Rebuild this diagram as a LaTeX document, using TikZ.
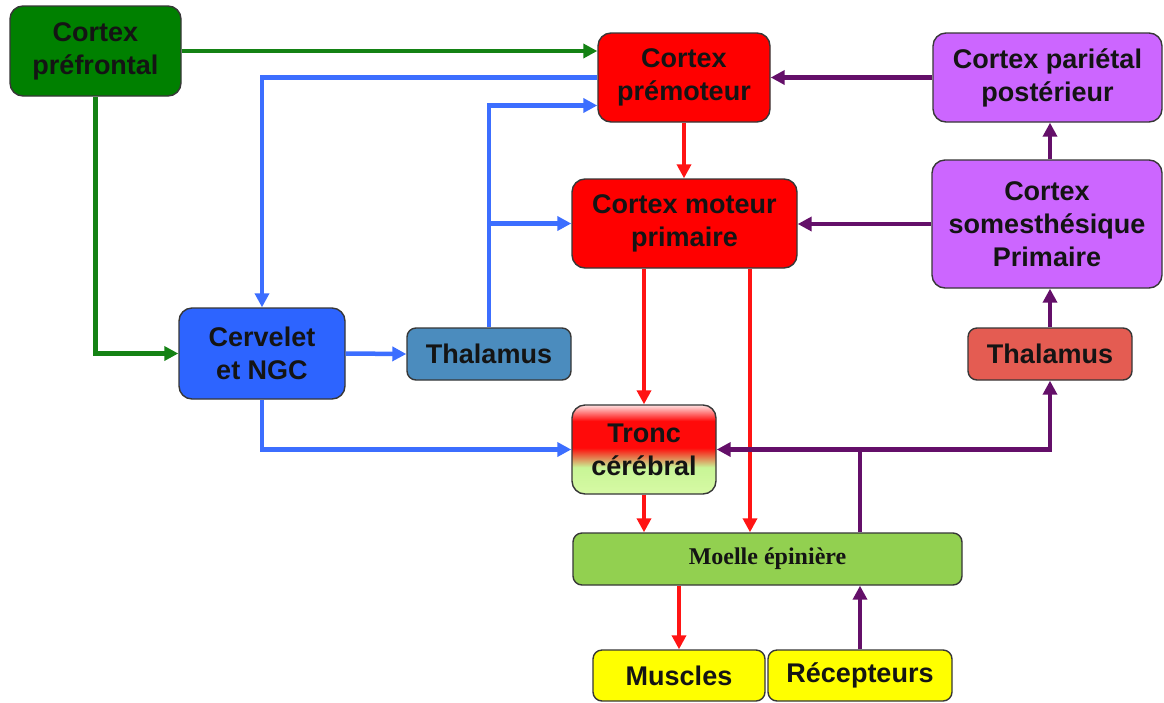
\documentclass[tikz,border=0pt]{standalone}
\usepackage{fontspec}
\setmainfont{Liberation Sans}
\newfontfamily\serifb{Liberation Serif}
\usetikzlibrary{arrows.meta,calc}
\definecolor{bord}{RGB}{55,55,55}
\definecolor{txt}{RGB}{20,20,20}
\definecolor{fpref}{RGB}{0,128,0}
\definecolor{fred}{RGB}{255,0,0}
\definecolor{fviol}{RGB}{204,102,255}
\definecolor{fblue}{RGB}{45,100,255}
\definecolor{fsteel}{RGB}{75,140,190}
\definecolor{fthr}{RGB}{228,92,82}
\definecolor{fmoelle}{RGB}{146,208,80}
\definecolor{fyel}{RGB}{255,255,0}
\definecolor{lgreen}{RGB}{20,130,20}
\definecolor{lblue}{RGB}{60,110,255}
\definecolor{lred}{RGB}{255,20,20}
\definecolor{lpurp}{RGB}{100,15,105}
\definecolor{tgreen}{RGB}{215,250,165}
\definecolor{tgreen2}{RGB}{200,245,150}
\definecolor{tred}{RGB}{255,10,10}
\definecolor{tpink}{RGB}{255,225,225}
\pgfdeclareverticalshading{troncshade}{100bp}{color(0bp)=(tgreen); color(25bp)=(tgreen); color(40bp)=(tgreen2); color(51bp)=(tred); color(66bp)=(tred); color(75bp)=(tpink); color(100bp)=(tpink)}
\begin{document}
\begin{tikzpicture}[x=1pt,y=-1pt,
  box/.style={draw=bord, line width=1.4pt, rounded corners=13pt, text=txt,
    font=\fontsize{27}{33}\selectfont\bfseries, align=center, inner sep=0pt},
  flat/.style={box, rounded corners=9pt},
  conn/.style={line width=4.5pt, -{Triangle[length=14pt,width=14pt]}},
  garr/.style={conn, draw=lgreen},
  barr/.style={conn, draw=lblue},
  rarr/.style={conn, draw=lred},
  parr/.style={conn, draw=lpurp}]
\useasboundingbox[fill=white] (0,0) rectangle (1164,702);

\node[box, fill=fpref, minimum width=171pt, minimum height=90pt] (pref) at (95.5,51) {Cortex\\préfrontal};
\node[box, fill=fred, minimum width=172pt, minimum height=89pt] (premot) at (684,77.5) {Cortex\\prémoteur};
\node[box, fill=fviol, minimum width=229pt, minimum height=89pt] (par) at (1047.5,77.5) {Cortex pariétal\\postérieur};
\node[box, fill=fred, minimum width=225pt, minimum height=89pt] (mot) at (684.5,223.5) {Cortex moteur\\primaire};
\node[box, fill=fviol, minimum width=230pt, minimum height=128pt] (som) at (1047,224) {Cortex\\somesthésique\\Primaire};
\node[box, fill=fblue, minimum width=166pt, minimum height=91pt] (cerv) at (262,353.5) {Cervelet\\et NGC};
\node[flat, fill=fsteel, minimum width=164pt, minimum height=52pt] (thb) at (489,354) {Thalamus};
\node[flat, fill=fthr, minimum width=164pt, minimum height=52pt] (thr) at (1050,354) {Thalamus};
\node[box, shading=troncshade, minimum width=144pt, minimum height=89pt] (tronc) at (644,449.5) {Tronc\\cérébral};
\node[flat, fill=fmoelle, minimum width=389pt, minimum height=52pt, font=\serifb\fontsize{24}{28}\selectfont\bfseries] (moelle) at (767.5,559) {Moelle épinière};
\node[flat, fill=fyel, minimum width=172pt, minimum height=51pt] (musc) at (679,675.5) {Muscles};
\node[flat, fill=fyel, minimum width=184pt, minimum height=51pt] (recep) at (860,675.5) {Récepteurs};

% green
\draw[garr] (pref.east) -- (pref.east -| premot.west);
\draw[garr] (pref.south) |- (cerv.west);
% blue
\draw[barr] (premot.west) -| (cerv.north);
\coordinate (pin) at ([yshift=-28pt]premot.west);
\draw[barr] (thb.north) |- (pin);
\draw[barr] (thb.north |- mot.west) -- (mot.west);
\draw[barr] (cerv.east) -- (thb.west);
\draw[barr] (cerv.south) |- (tronc.west);
% red
\draw[rarr] (premot.south) -- (premot.south |- mot.north);
\draw[rarr] (tronc.north |- mot.south) -- (tronc.north);
\coordinate (m2) at ([xshift=65.5pt]mot.south);
\draw[rarr] (m2) -- (m2 |- moelle.north);
\draw[rarr] (tronc.south) -- (tronc.south |- moelle.north);
\draw[rarr] (musc.north |- moelle.south) -- (musc.north);
% purple
\draw[parr] (recep.north) -- (recep.north |- moelle.south);
\draw[parr] (recep.north |- moelle.north) |- (tronc.east);
\coordinate (j) at (recep.north |- tronc.east);
\draw[parr] (j) -| (thr.south);
\draw[parr] (thr.north) -- (thr.north |- som.south);
\draw[parr] (thr.north |- som.north) -- (thr.north |- par.south);
\draw[parr] (som.west) -- (som.west -| mot.east);
\draw[parr] (par.west) -- (par.west -| premot.east);
\end{tikzpicture}
\end{document}
